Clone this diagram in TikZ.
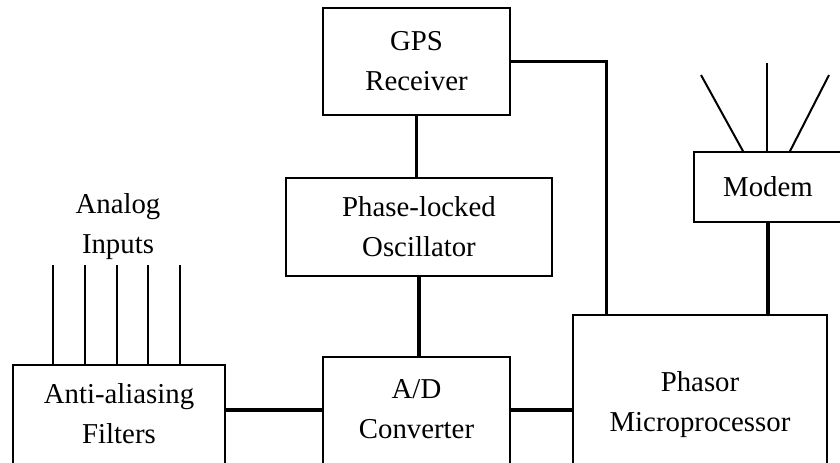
\documentclass[tikz,border=0pt]{standalone}
\usepackage{fontspec}
\setmainfont{Liberation Serif}
\tikzset{
  box/.style={draw=black, line width=0.85pt, fill=white, inner sep=0pt, align=center},
  lbl/.style={inner sep=0pt, align=center},
  wire/.style={line width=1.65pt},
  thinwire/.style={line width=1pt},
}
\begin{document}
\begin{tikzpicture}[x=0.5pt, y=-0.5pt, font=\fontsize{14.4}{20}\selectfont]
\useasboundingbox (0,0) rectangle (840,462);
\clip (0,0) rectangle (840,462);
% boxes
\node[box, minimum width=93.5pt, minimum height=53.5pt] (gps) at (416.5,61.5) {GPS\\Receiver};
\node[box, minimum width=133pt, minimum height=49pt] (plo) at (419,227) {Phase-locked\\Oscillator};
\node[box, minimum width=74pt, minimum height=35pt] (modem) at (768,187) {Modem};
\node[box, minimum width=93.5pt, minimum height=61.5pt] (ad) at (416.5,418.5) {};
\node[box, minimum width=106pt, minimum height=57.5pt] (aa) at (119,422.5) {};
\node[box, minimum width=127pt, minimum height=92.5pt] (ph) at (700,407.5) {};
% texts of cut-off boxes
\node[lbl] (adt) at (416.5,409) {A/D\\Converter};
\node[lbl] (aat) at (119,414) {Anti-aliasing\\Filters};
\node[lbl] (pht) at (700,405) {Phasor\\Microprocessor};
\node[lbl] (ain) at (118,227) {Analog\\Inputs};
% connectors
\coordinate (bus) at (0,410);
\draw[wire] (gps.south) -- (gps.south |- plo.north);
\draw[wire] (plo.south) -- (plo.south |- ad.north);
\draw[wire] (gps.east) -| ([xshift=17pt]ph.north west);
\draw[wire] (modem.south) -- (modem.south |- ph.north);
\draw[wire] (aa.east |- bus) -- (ad.west |- bus);
\draw[wire] (ad.east |- bus) -- (ph.west |- bus);
% analog inputs
\foreach \x in {53,85,117,148,180}
  \draw[thinwire] (\x,265) -- (aa.north -| \x,0);
% antennas
\coordinate (a1) at (701,75);
\coordinate (a2) at (767,63);
\coordinate (a3) at (829,75);
\draw[thinwire] (a1) -- (743,0 |- modem.north);
\draw[thinwire] (a2) -- (767,0 |- modem.north);
\draw[thinwire] (a3) -- (790,0 |- modem.north);
\end{tikzpicture}
\end{document}
